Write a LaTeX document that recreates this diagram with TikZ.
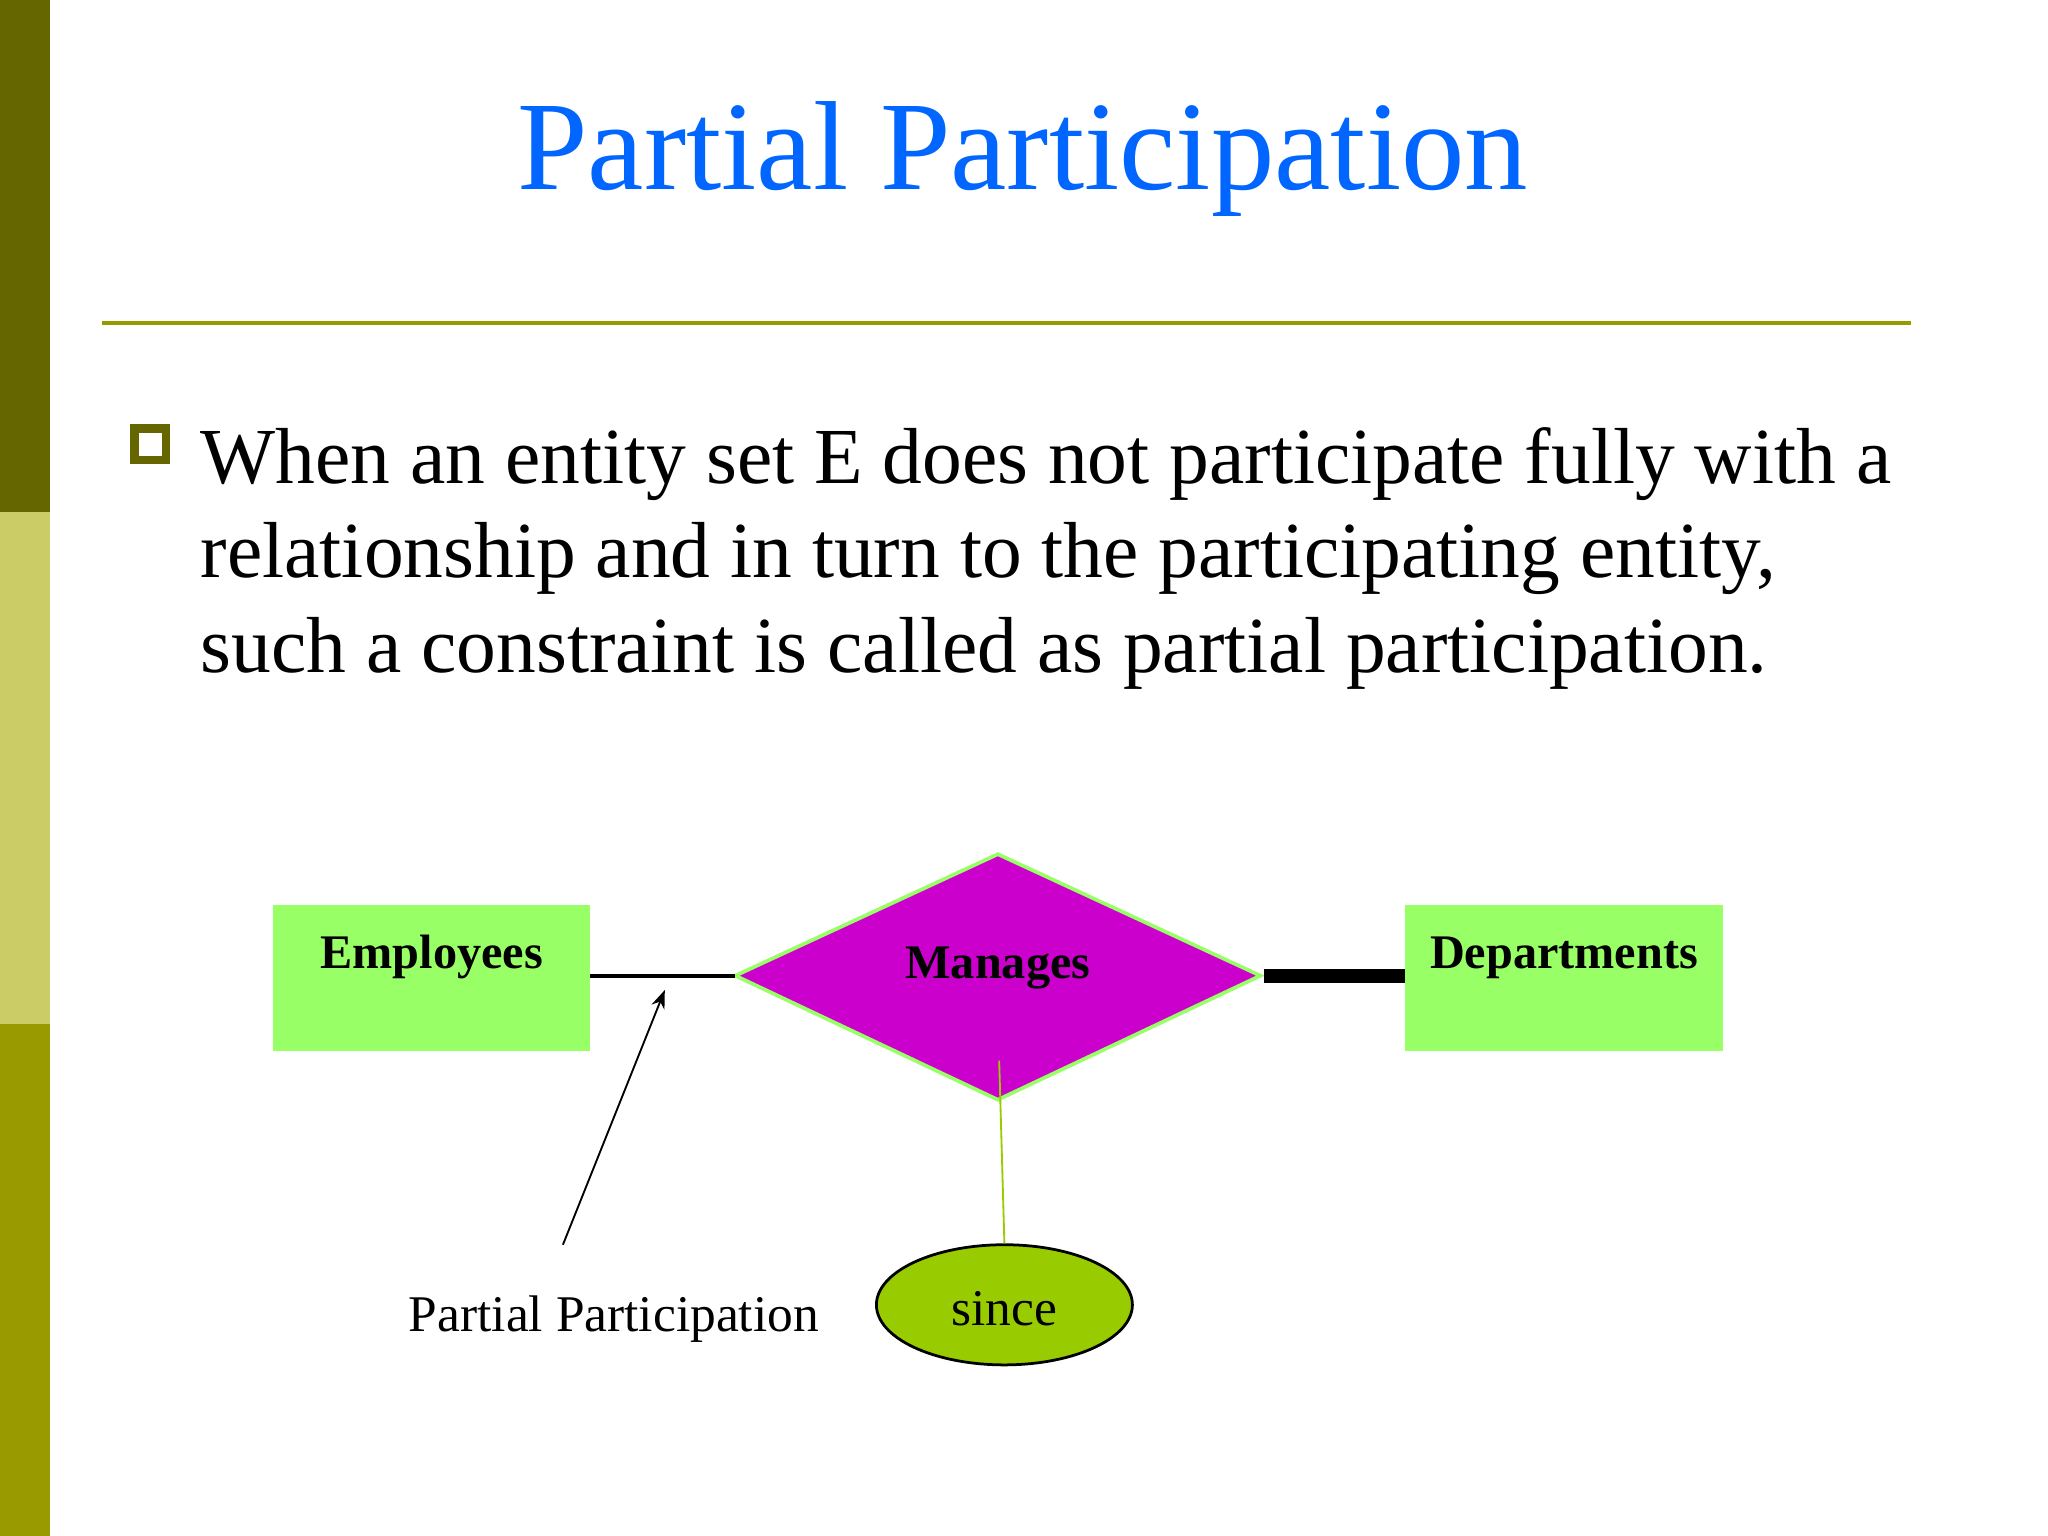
\documentclass[tikz,border=0pt]{standalone}
\usepackage{fontspec}
\setmainfont{Liberation Serif}
\usetikzlibrary{shapes.geometric,arrows.meta}
\definecolor{olivedark}{HTML}{666600}
\definecolor{olivelight}{HTML}{CCCC66}
\definecolor{olivemid}{HTML}{999900}
\definecolor{titleblue}{HTML}{0066FF}
\definecolor{entgreen}{HTML}{99FF66}
\definecolor{relmag}{HTML}{CC00CC}
\definecolor{attrgreen}{HTML}{99CC00}
\begin{document}
\begin{tikzpicture}[x=0.01cm,y=-0.01cm,
  entity/.style={fill=entgreen,draw=none,minimum width=243*0.01cm,minimum height=112*0.01cm,inner sep=0pt},
  enttext/.style={font=\fontsize{10.5}{13}\selectfont\bfseries},
  small/.style={font=\fontsize{11.2}{14}\selectfont},
  bodyline/.style={anchor=base west,font=\fontsize{17.3}{20.8}\selectfont,inner sep=0pt}]
\useasboundingbox (0,0) rectangle (1568,1176);
\fill[white] (0,0) rectangle (1568,1176);
\fill[olivedark] (0,0) rectangle (38,392);
\fill[olivelight] (0,392) rectangle (38,784);
\fill[olivemid] (0,784) rectangle (38,1176);
\node[text=titleblue,font=\fontsize{27.6}{34}\selectfont,anchor=base] (title) at (783,145) {Partial Participation};
\draw[olivemid,line width=0.9pt] (78,247) -- (1463,247);
\draw[olivedark,line width=1.8pt] (103,328) rectangle (127,352);
\node[bodyline] (b1) at (153,370) {When an entity set E does not participate fully with a};
\node[bodyline] (b2) at (153,442) {relationship and in turn to the participating entity,};
\node[bodyline] (b3) at (153,515) {such a constraint is called as partial participation.};
\node[entity] (emp) at (330.5,749) {};
\node[enttext] at (330.5,733) {Employees};
\node[entity] (dep) at (1197.5,749) {};
\node[enttext] at (1197.5,733) {Departments};
\draw[fill=relmag,draw=entgreen,line width=0.8pt] (563,747) coordinate (dl) -- (764,654) -- (965,747) coordinate (dr) -- (764,842) -- cycle;
\node[enttext] (rel) at (764,741) {Manages};
\draw[line width=0.9pt] (452,747) -- (dl);
\draw[line width=3pt] (968,747) -- (1076,747);
\coordinate (arrS) at (431,953);
\coordinate (arrE) at (509,758);
\draw[-{Stealth[length=4pt,width=3pt]},line width=0.4pt] (arrS) -- (arrE);
\node[ellipse,fill=attrgreen,draw=black,line width=0.6pt,minimum width=196*0.01cm,minimum height=92*0.01cm,inner sep=0pt] (since) at (769,999) {};
\node[small] at (769,1002) {since};
\draw[attrgreen,line width=0.4pt] (765,812) -- (since.north);
\node[small] (pp) at (470,1010) {Partial Participation};
\end{tikzpicture}
\end{document}
